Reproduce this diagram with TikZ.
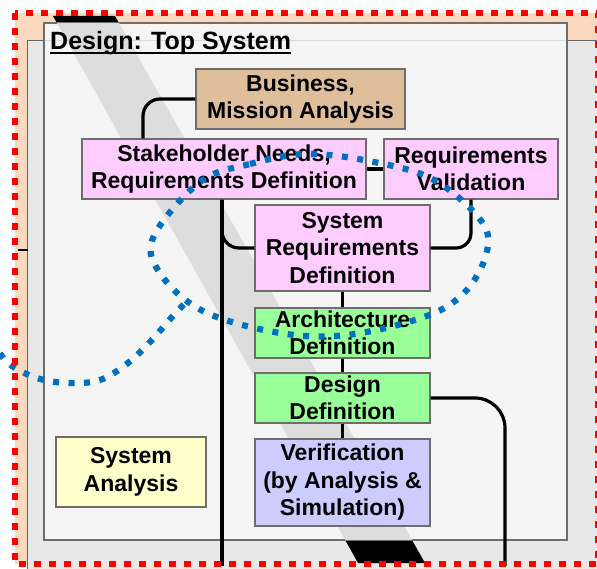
\documentclass[tikz,border=0pt]{standalone}
\usepackage{fontspec}
\setmainfont{Liberation Sans}
\usepackage{xcolor}
\usetikzlibrary{calc}
\definecolor{peach}{HTML}{FBD9BF}
\definecolor{outergray}{HTML}{E8E8E8}
\definecolor{panelgray}{HTML}{F5F5F5}
\definecolor{headgray}{HTML}{F7F5F3}
\definecolor{bandgray}{HTML}{DDDDDD}
\definecolor{boxedge}{HTML}{6D6D6D}
\definecolor{tanfill}{HTML}{DEBE9B}
\definecolor{pinkfill}{HTML}{FFCCFF}
\definecolor{greenfill}{HTML}{99FF99}
\definecolor{lavfill}{HTML}{CCCCFF}
\definecolor{yellowfill}{HTML}{FFFFCC}
\definecolor{loopblue}{HTML}{0070C0}
\tikzset{
  procbox/.style={draw=boxedge, line width=1.2pt, align=center, inner sep=0pt,
    font=\bfseries\fontsize{23}{27.5}\selectfont},
  conn/.style={line width=3.2pt},
  loopline/.style={draw=loopblue, line width=6.2pt, dash pattern=on 6pt off 9.5pt},
  redframe/.style={draw=red, line width=6pt, dash pattern=on 7pt off 8pt}
}
\begin{document}
\begin{tikzpicture}[x=1pt,y=-1pt]
        \useasboundingbox[fill=white] (0,0) rectangle (597,569);
        % frames
        \fill[peach] (15,13) rectangle (598,564);
        \filldraw[fill=outergray, draw=black!60, line width=0.8pt] (27,40) rectangle (600,570);
        \fill[black] (53,16) -- (115,16) -- (425,563) -- (358,563) -- cycle;
        \filldraw[fill=panelgray, draw=boxedge, line width=1.2pt] (44,23) rectangle (567,540);
        \fill[headgray] (45,24) rectangle (566,40);
        \begin{scope}
          \clip (45,24) rectangle (566,539);
          \fill[bandgray] (53,16) -- (115,16) -- (425,563) -- (358,563) -- cycle;
        \end{scope}
        \draw[black!15, line width=0.8pt] (45,40) -- (566,40);
        \node[anchor=base west, inner sep=0pt, font=\bfseries\fontsize{25}{30}\selectfont] (title) at (50,50) {Design: Top System};
        \draw[line width=1.6pt] ([yshift=-3pt]title.base west) -- ([yshift=-3pt]title.base east);
        % boxes
        \node[procbox, fill=tanfill, minimum width=209pt, minimum height=60pt] (bma) at (300.5,99) {Business,\\Mission Analysis};
        \node[procbox, fill=pinkfill, minimum width=284pt, minimum height=60pt] (snrd) at (224,169) {Stakeholder Needs,\\Requirements Definition};
        \node[procbox, fill=pinkfill, minimum width=174pt, minimum height=60pt] (rv) at (471,169) {Requirements\\Validation};
        \node[procbox, fill=pinkfill, minimum width=175pt, minimum height=86pt] (srd) at (342.5,248) {System\\Requirements\\Definition};
        \node[procbox, fill=greenfill, minimum width=175pt, minimum height=50pt] (ad) at (342.5,333) {Architecture\\Definition};
        \node[procbox, fill=greenfill, minimum width=175pt, minimum height=50pt] (dd) at (342.5,398) {Design\\Definition};
        \node[procbox, fill=lavfill, minimum width=175pt, minimum height=87pt] (ver) at (342.5,482.5) {Verification\\(by Analysis \&\\Simulation)};
        \node[procbox, fill=yellowfill, minimum width=150pt, minimum height=70pt] (sa) at (131,472) {System\\Analysis};
        % connectors
        \coordinate (trunkfoot) at (222,566);
        \coordinate (ddfoot) at (505,566);
        \coordinate (stubl) at (18,250);
        \coordinate (stubr) at (28,250);
        \draw[conn, rounded corners=17pt] (bma.west) -| ([xshift=-81pt]snrd.north);
        \draw[conn] (snrd.east) -- (rv.west);
        \draw[conn] (trunkfoot |- snrd.south) -- (trunkfoot);
        \draw[conn, rounded corners=17pt] (trunkfoot |- snrd.south) |- (srd.west);
        \draw[conn, rounded corners=15pt] (rv.south) |- (srd.east);
        \draw[conn] (srd.south) -- (ad.north);
        \draw[conn] (ad.south) -- (dd.north);
        \draw[conn] (dd.south) -- (ver.north);
        \draw[conn, rounded corners=30pt] (dd.east) -| (ddfoot);
        \draw[line width=2pt] (stubl) -- (stubr);
        % dotted loops
        \draw[loopline] plot[smooth cycle, tension=0.6] coordinates {(200,182) (250,164) (307,154) (374,162) (434,180) (482,222) (486,255) (464,293) (424,317) (347,335) (280,333) (205,312) (162,276) (153,238)};
        \draw[loopline] plot[smooth, tension=0.6] coordinates {(-8,340) (8,363) (37,378) (68,383) (100,380) (128,363) (150,342) (172,317) (188,300)};
        \draw[redframe] (15,13) rectangle (598,564);
      \end{tikzpicture}
\end{document}
